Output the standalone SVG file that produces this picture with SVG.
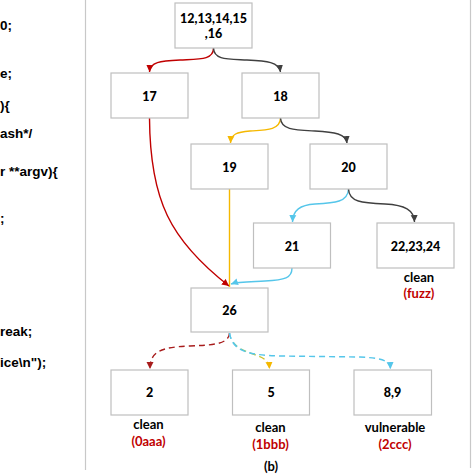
<svg xmlns="http://www.w3.org/2000/svg" width="474" height="474" viewBox="0 0 474 474">
<style>
.box{fill:#fff;stroke:#bfbfbf;stroke-width:1.2}
.num{font-family:Lato,"Open Sans",sans-serif;font-weight:900;font-size:12.5px;fill:#000;text-anchor:middle}
.lbl{font-family:Lato,"Open Sans",sans-serif;font-weight:bold;font-size:13px;text-anchor:middle}
.red{fill:#c00000}
.code{font-family:"Liberation Sans",Arial,sans-serif;font-weight:bold;font-size:13.5px;fill:#000}
.c{fill:none;stroke-width:1.4}
.sep{stroke:#c8c8c8;stroke-width:1.2}
</style>
<defs>
<marker id="aRed" markerWidth="8" markerHeight="8" refX="7" refY="4" orient="auto" markerUnits="userSpaceOnUse"><path d="M0,0.5 L7,4 L0,7.5 Z" fill="#c00000"/></marker>
<marker id="aGray" markerWidth="8" markerHeight="8" refX="7" refY="4" orient="auto" markerUnits="userSpaceOnUse"><path d="M0,0.5 L7,4 L0,7.5 Z" fill="#404040"/></marker>
<marker id="aYel" markerWidth="8" markerHeight="8" refX="7" refY="4" orient="auto" markerUnits="userSpaceOnUse"><path d="M0,0.5 L7,4 L0,7.5 Z" fill="#f5b800"/></marker>
<marker id="aCyan" markerWidth="8" markerHeight="8" refX="7" refY="4" orient="auto" markerUnits="userSpaceOnUse"><path d="M0,0.5 L7,4 L0,7.5 Z" fill="#55c6ea"/></marker>
<marker id="aDRed" markerWidth="8" markerHeight="8" refX="7" refY="4" orient="auto" markerUnits="userSpaceOnUse"><path d="M0,0.5 L7,4 L0,7.5 Z" fill="#a81c1c"/></marker>
<linearGradient id="gGY" gradientUnits="userSpaceOnUse" x1="230" y1="335" x2="270" y2="368">
<stop offset="0" stop-color="#55c6ea"/><stop offset="0.45" stop-color="#9ccc60"/><stop offset="1" stop-color="#f5b800"/>
</linearGradient>
</defs>

<g id="code">
<text class="code" x="0" y="30">0;</text>
<text class="code" x="0" y="78">e;</text>
<text class="code" x="0" y="110">){</text>
<text class="code" x="0" y="138">ash*/</text>
<text class="code" x="0" y="176">r **argv){</text>
<text class="code" x="0" y="223">;</text>
<text class="code" x="0" y="336">reak;</text>
<text class="code" x="0" y="367">ice\n");</text>
</g>

<g id="separators">
<line class="sep" x1="85.5" y1="0" x2="85.5" y2="470"/>
<line class="sep" x1="470.5" y1="0" x2="470.5" y2="468"/>
</g>

<g id="connectors">
<path class="c" stroke="#c00000" d="M213.5,48 C213.5,60 200,59 180,60 C160,61 150,62 149.5,72" marker-end="url(#aRed)"/>
<path class="c" stroke="#404040" d="M213.5,48 C214,60 227,59 247,60 C267,61 279,62 280.5,72" marker-end="url(#aGray)"/>
<path class="c" stroke="#f5b800" d="M280.5,118 C280,130 267,130 250,131 C237,132 231,134 230.5,143" marker-end="url(#aYel)"/>
<path class="c" stroke="#404040" d="M280.5,118 C281,130 295,130 315,131 C335,132 346,134 347,143" marker-end="url(#aGray)"/>
<path class="c" stroke="#55c6ea" d="M348.5,189 C348,202 335,203 315,204 C300,205 293,210 292.5,222" marker-end="url(#aCyan)"/>
<path class="c" stroke="#404040" d="M348.5,189 C349,202 362,203 385,204 C405,205 414,210 414.5,222" marker-end="url(#aGray)"/>
<path class="c" stroke="#f5b800" d="M229.5,189 L229.5,287"/>
<path class="c" stroke="#c00000" d="M149.5,118 C150,200 170,240 229,286" marker-end="url(#aRed)"/>
<path class="c" stroke="#55c6ea" d="M292,268 C292,278 285,280 265,281 C245,282 237,282 231,284" marker-end="url(#aCyan)"/>
<path class="c" stroke="#a81c1c" stroke-dasharray="6,4" d="M229.5,333 C229,345 210,345 190,346 C160,347 150,352 150,369" marker-end="url(#aDRed)"/>
<path class="c" stroke="url(#gGY)" stroke-dasharray="6,4" d="M229.5,333 C232,350 250,352 258,356 C266,359 269,362 269.5,369" marker-end="url(#aYel)"/>
<path class="c" stroke="#55c6ea" stroke-dasharray="6,4" d="M229.5,333 C232,352 250,355 280,356 L360,357 C380,358 390,360 390.5,369" marker-end="url(#aCyan)"/>
</g>

<g id="n12"><rect class="box" x="175" y="3" width="77" height="45"/><text class="num" x="213.5" y="23">12,13,14,15</text><text class="num" x="213.5" y="38">,16</text></g>
<g id="n17"><rect class="box" x="111" y="73" width="77" height="45"/><text class="num" x="149.5" y="100.5">17</text></g>
<g id="n18"><rect class="box" x="242" y="73" width="77" height="45"/><text class="num" x="280.5" y="100.5">18</text></g>
<g id="n19"><rect class="box" x="191" y="144" width="77" height="45"/><text class="num" x="229.5" y="171.5">19</text></g>
<g id="n20"><rect class="box" x="310" y="144" width="77" height="45"/><text class="num" x="348.5" y="171.5">20</text></g>
<g id="n21"><rect class="box" x="253.5" y="223" width="77" height="45"/><text class="num" x="292" y="250.5">21</text></g>
<g id="n22"><rect class="box" x="377" y="223" width="77" height="45"/><text class="num" x="415.5" y="250.5">22,23,24</text>
<text class="lbl" x="419" y="282">clean</text><text class="lbl red" x="419" y="298">(fuzz)</text></g>
<g id="n26"><rect class="box" x="191" y="288" width="77" height="44"/><text class="num" x="229.5" y="314.5">26</text></g>
<g id="n2"><rect class="box" x="111" y="370" width="77" height="45"/><text class="num" x="149.5" y="397">2</text>
<text class="lbl" x="148.5" y="429">clean</text><text class="lbl red" x="148.5" y="446">(0aaa)</text></g>
<g id="n5"><rect class="box" x="232.5" y="370" width="77" height="45"/><text class="num" x="271" y="397">5</text>
<text class="lbl" x="270.5" y="432">clean</text><text class="lbl red" x="270.5" y="449">(1bbb)</text></g>
<g id="n89"><rect class="box" x="354" y="370" width="77.5" height="45"/><text class="num" x="392.5" y="397">8,9</text>
<text class="lbl" x="395" y="432">vulnerable</text><text class="lbl red" x="395" y="449">(2ccc)</text></g>

<text class="lbl" x="271" y="471">(b)</text>
</svg>
